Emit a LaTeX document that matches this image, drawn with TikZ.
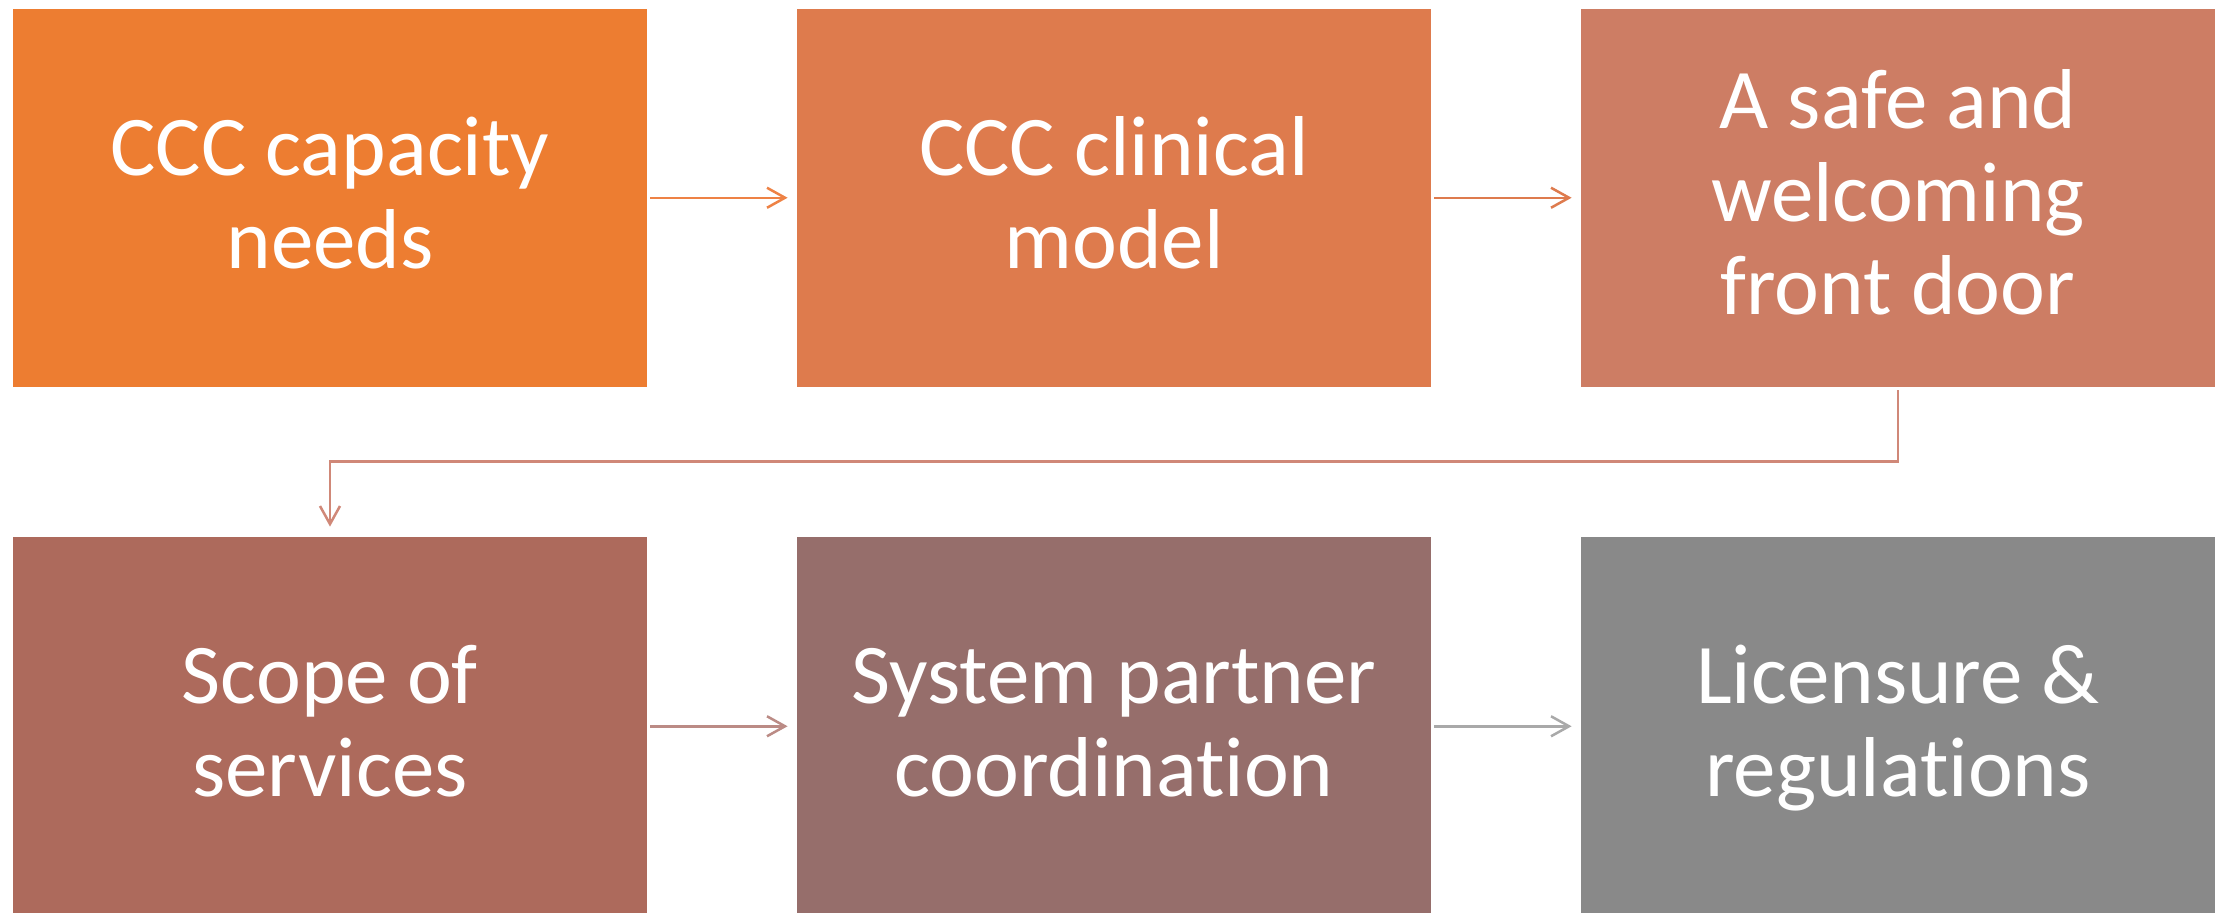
\documentclass[tikz,border=0pt]{standalone}
\usepackage{fontspec}
\setmainfont{Carlito}[Ligatures=NoCommon]
\usetikzlibrary{arrows.meta,calc}
\definecolor{c1}{HTML}{ED7D31}
\definecolor{c2}{HTML}{DE7B4D}
\definecolor{c3}{HTML}{CD7D64}
\definecolor{c4}{HTML}{AD6A5C}
\definecolor{c5}{HTML}{966E6B}
\definecolor{c6}{HTML}{898989}
\definecolor{a12}{HTML}{EE8245}
\definecolor{a23}{HTML}{DE7B4E}
\definecolor{a34}{HTML}{D08878}
\definecolor{a45}{HTML}{BB8B85}
\definecolor{a56}{HTML}{A9A9A9}
\tikzset{
  boxnode/.style={draw=none, rectangle, inner sep=0pt, minimum width=317pt, minimum height=189.25pt},
  lbl/.style={align=center, text=white, inner sep=0pt, font=\fontsize{42.5}{46.5}\selectfont},
  conn/.style={line width=1.25pt, -{Straight Barb[length=9pt,width=10pt]}}
}
\begin{document}
\begin{tikzpicture}[x=0.5pt,y=-0.5pt]
\useasboundingbox (0,0) rectangle (2221,912);
\fill[white] (0,0) rectangle (2221,912);
\node[boxnode, fill=c1] (b1) at (330,197.75) {};
\node[boxnode, fill=c2] (b2) at (1114,197.75) {};
\node[boxnode, fill=c3] (b3) at (1898,197.75) {};
\node[boxnode, fill=c4] (b4) at (330,726.25) {};
\node[boxnode, fill=c5] (b5) at (1114,726.25) {};
\node[boxnode, fill=c6] (b6) at (1898,726.25) {};
\node[lbl] (t1) at ([yshift=-2.6pt]b1.center) {\strut CCC capacity\\needs\strut};
\node[lbl] (t2) at ([yshift=-2.6pt]b2.center) {\strut CCC clinical\\model\strut};
\node[lbl] (t3) at ([yshift=-2.6pt]b3.center) {\strut A safe and\\welcoming\\front door\strut};
\node[lbl] (t4) at ([yshift=-2.6pt]b4.center) {\strut Scope of\\services\strut};
\node[lbl] (t5) at ([yshift=-2.6pt]b5.center) {\strut System partner\\coordination\strut};
\node[lbl] (t6) at ([yshift=-2.6pt]b6.center) {\strut Licensure \&\\regulations\strut};
\draw[conn, a12] ([xshift=1.5pt]b1.east) -- ([xshift=-4.5pt]b2.west);
\draw[conn, a23] ([xshift=1.5pt]b2.east) -- ([xshift=-4.5pt]b3.west);
\coordinate (m) at (1898,461.7);
\draw[conn, a34] ([yshift=-1.5pt]b3.south) -- (b3.south |- m) -| ([yshift=5pt]b4.north);
\draw[conn, a45] ([xshift=1.5pt]b4.east) -- ([xshift=-4.5pt]b5.west);
\draw[conn, a56] ([xshift=1.5pt]b5.east) -- ([xshift=-4.5pt]b6.west);
\end{tikzpicture}
\end{document}
